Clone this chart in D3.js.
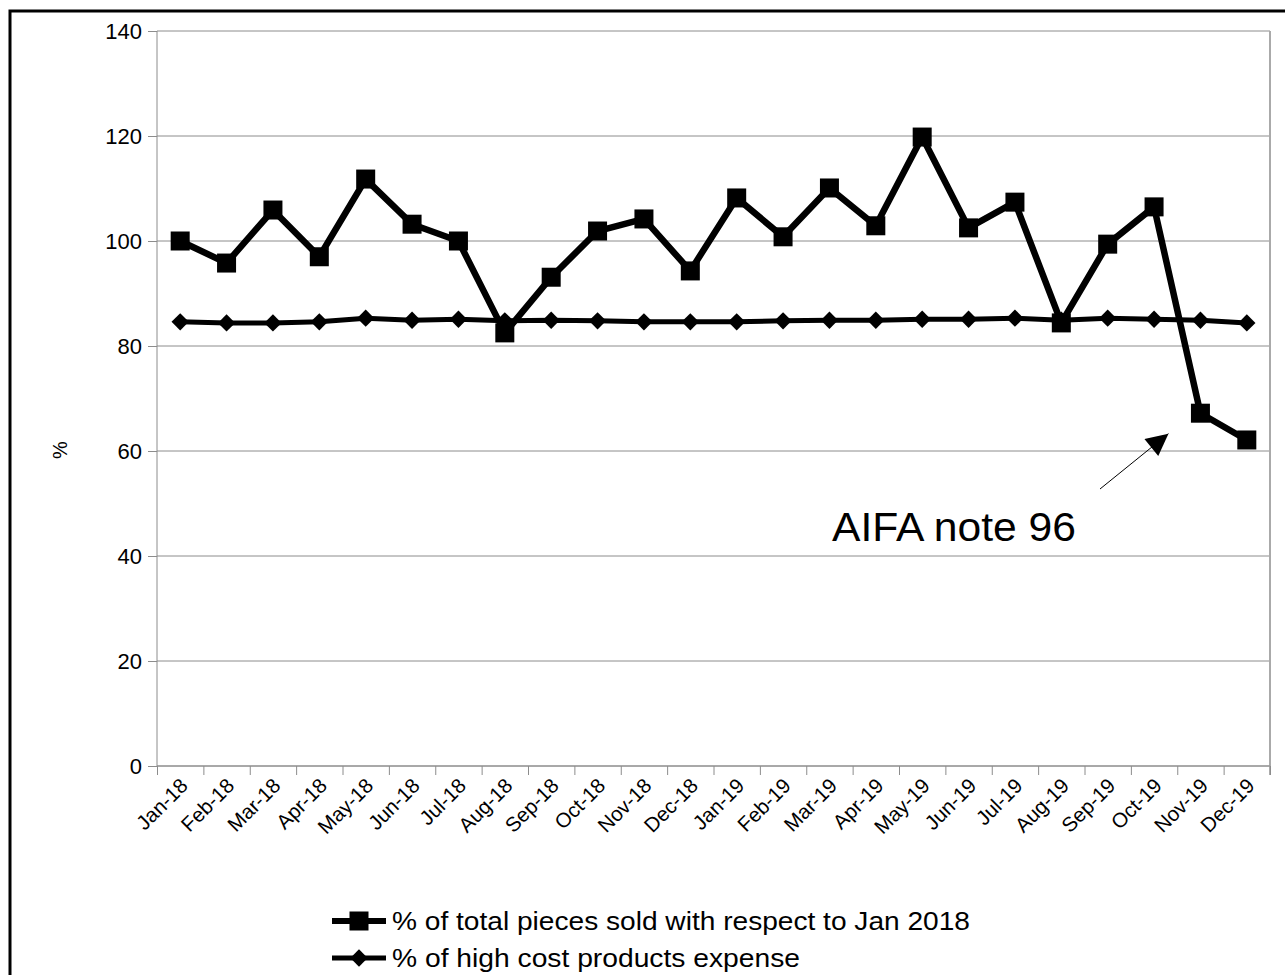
<!DOCTYPE html>
<html>
<head>
<meta charset="utf-8">
<script src="https://cdn.jsdelivr.net/npm/d3@7"></script>
<style>
  body { margin: 0; background: #fff; }
  svg { display: block; font-family: "Liberation Sans", Arial, sans-serif; }
</style>
</head>
<body>
<div id="vis"></div>
<script>
const FRAME_WIDTH = 1285;
const FRAME_HEIGHT = 975;
const MARGINS = { top: 31, bottom: 209, left: 157, right: 15 };
const VIS_WIDTH = FRAME_WIDTH - MARGINS.left - MARGINS.right;
const VIS_HEIGHT = FRAME_HEIGHT - MARGINS.top - MARGINS.bottom;

const MONTHS = ["Jan-18", "Feb-18", "Mar-18", "Apr-18", "May-18", "Jun-18",
  "Jul-18", "Aug-18", "Sep-18", "Oct-18", "Nov-18", "Dec-18",
  "Jan-19", "Feb-19", "Mar-19", "Apr-19", "May-19", "Jun-19",
  "Jul-19", "Aug-19", "Sep-19", "Oct-19", "Nov-19", "Dec-19"];

const PIECES = [100, 95.8, 105.9, 97, 111.8, 103.2, 100, 82.5, 93.1, 101.9, 104.2, 94.3,
  108.2, 100.8, 110.1, 102.9, 119.8, 102.5, 107.4, 84.4, 99.4, 106.5, 67.2, 62.1];

const HIGH_COST = [84.6, 84.4, 84.4, 84.6, 85.3, 84.9, 85.1, 84.8, 84.9, 84.8, 84.6, 84.6,
  84.6, 84.8, 84.9, 84.9, 85.1, 85.1, 85.3, 84.9, 85.3, 85.1, 84.9, 84.4];

const Y_TICKS = [0, 20, 40, 60, 80, 100, 120, 140];
const SERIES_NAMES = ["% of total pieces sold with respect to Jan 2018", "% of high cost products expense"];
const NOTE = { text: "AIFA note 96", month: "Nov-19", value: 63.5 };

const GRID = "#8c8c8c";

const FRAME = d3.select("#vis")
  .append("svg")
  .attr("width", FRAME_WIDTH)
  .attr("height", FRAME_HEIGHT);

// outer border (only top and left show)
FRAME.append("rect")
  .attr("x", 10).attr("y", 11)
  .attr("width", 1400).attr("height", 1200)
  .attr("fill", "none")
  .attr("stroke", "#000")
  .attr("stroke-width", 3);

const X_SCALE = d3.scaleBand().domain(MONTHS).range([0, VIS_WIDTH]);
const X_EDGE = d3.scaleLinear().domain([0, MONTHS.length]).range([0, VIS_WIDTH]);
const Y_SCALE = d3.scaleLinear().domain([0, 140]).range([VIS_HEIGHT, 0]);
const xc = (d) => X_SCALE(d) + X_SCALE.bandwidth() / 2 + MARGINS.left;

const plot = FRAME.append("g")
  .attr("transform", `translate(${MARGINS.left},${MARGINS.top})`);

// gridlines
plot.selectAll(".grid")
  .data(Y_TICKS)
  .enter()
  .append("line")
  .attr("x1", 0).attr("x2", VIS_WIDTH)
  .attr("y1", (d) => Y_SCALE(d)).attr("y2", (d) => Y_SCALE(d))
  .attr("stroke", GRID).attr("stroke-width", 1);

// right border of plot
plot.append("line")
  .attr("x1", VIS_WIDTH).attr("x2", VIS_WIDTH)
  .attr("y1", 0).attr("y2", VIS_HEIGHT + 9)
  .attr("stroke", "#aaa").attr("stroke-width", 2);

// y axis
const yAxis = plot.append("g")
  .call(d3.axisLeft(Y_SCALE).tickValues(Y_TICKS).tickSize(9).tickPadding(6));
yAxis.selectAll("line, path").attr("stroke", GRID);
yAxis.select(".domain").attr("d", `M0,0V${VIS_HEIGHT}`);
yAxis.selectAll("text")
  .attr("font-size", 22)
  .attr("fill", "#000")
  .attr("font-family", "Liberation Sans");

// x axis ticks on category boundaries
const xAxis = plot.append("g")
  .attr("transform", `translate(0,${VIS_HEIGHT})`)
  .call(d3.axisBottom(X_EDGE).tickValues(d3.range(MONTHS.length + 1)).tickSize(9).tickFormat(""));
xAxis.selectAll("line, path").attr("stroke", GRID);
xAxis.select(".domain").attr("d", `M0,0H${VIS_WIDTH}`);

// x labels
FRAME.append("g")
  .selectAll("text")
  .data(MONTHS)
  .enter()
  .append("text")
  .attr("transform", (d) => `translate(${xc(d) + 9},${MARGINS.top + VIS_HEIGHT + 21}) rotate(-45)`)
  .attr("text-anchor", "end")
  .attr("font-size", 20.5)
  .text((d) => d);

// y title
FRAME.append("text")
  .attr("transform", "translate(67,450) rotate(-90)")
  .attr("text-anchor", "middle")
  .attr("font-size", 20)
  .text("%");

// lines
const line = d3.line()
  .x((d, i) => xc(MONTHS[i]))
  .y((d) => Y_SCALE(d) + MARGINS.top);

FRAME.append("path")
  .datum(HIGH_COST)
  .attr("d", line)
  .attr("fill", "none")
  .attr("stroke", "#000")
  .attr("stroke-width", 5)
  .attr("stroke-linejoin", "round");

FRAME.selectAll(".dia")
  .data(HIGH_COST)
  .enter()
  .append("path")
  .attr("d", d3.symbol().type(d3.symbolSquare).size(150))
  .attr("transform", (d, i) => `translate(${xc(MONTHS[i])},${Y_SCALE(d) + MARGINS.top}) rotate(45)`)
  .attr("fill", "#000");

FRAME.append("path")
  .datum(PIECES)
  .attr("d", line)
  .attr("fill", "none")
  .attr("stroke", "#000")
  .attr("stroke-width", 6.5)
  .attr("stroke-linejoin", "round");

FRAME.selectAll(".sq")
  .data(PIECES)
  .enter()
  .append("rect")
  .attr("x", (d, i) => xc(MONTHS[i]) - 9.5)
  .attr("y", (d) => Y_SCALE(d) + MARGINS.top - 9.5)
  .attr("width", 19)
  .attr("height", 19)
  .attr("fill", "#000");

// annotation
FRAME.append("defs").append("marker")
  .attr("id", "arrow")
  .attr("viewBox", "0 0 10 10")
  .attr("refX", 10).attr("refY", 5)
  .attr("markerWidth", 28).attr("markerHeight", 22)
  .attr("markerUnits", "userSpaceOnUse")
  .attr("orient", "auto")
  .append("path")
  .attr("d", "M0,0L10,5L0,10Z")
  .attr("fill", "#000");

const noteX = xc(NOTE.month);
const noteY = Y_SCALE(NOTE.value) + MARGINS.top;
FRAME.append("line")
  .attr("x1", 1100).attr("y1", 489)
  .attr("x2", noteX - 32).attr("y2", noteY + 1)
  .attr("stroke", "#000")
  .attr("stroke-width", 1)
  .attr("marker-end", "url(#arrow)");

FRAME.append("text")
  .attr("x", 832).attr("y", 541)
  .attr("font-size", 40)
  .attr("textLength", 244)
  .attr("lengthAdjust", "spacingAndGlyphs")
  .text(NOTE.text);

// legend
const legend = FRAME.append("g");
const LEG_Y = [921, 958];
legend.selectAll(".lline")
  .data(SERIES_NAMES)
  .enter()
  .append("line")
  .attr("x1", 332).attr("x2", 386)
  .attr("y1", (d, i) => LEG_Y[i]).attr("y2", (d, i) => LEG_Y[i])
  .attr("stroke", "#000")
  .attr("stroke-width", (d, i) => (i === 0 ? 6 : 5));

legend.append("rect")
  .attr("x", 349.5).attr("y", LEG_Y[0] - 9.5)
  .attr("width", 19).attr("height", 19)
  .attr("fill", "#000");

legend.append("path")
  .attr("d", d3.symbol().type(d3.symbolSquare).size(150))
  .attr("transform", `translate(359,${LEG_Y[1]}) rotate(45)`)
  .attr("fill", "#000");

legend.selectAll(".ltext")
  .data(SERIES_NAMES)
  .enter()
  .append("text")
  .attr("x", 392)
  .attr("y", (d, i) => LEG_Y[i] + 9)
  .attr("font-size", 26)
  .attr("textLength", (d, i) => (i === 0 ? 578 : 408))
  .attr("lengthAdjust", "spacingAndGlyphs")
  .text((d) => d);
</script>
</body>
</html>
